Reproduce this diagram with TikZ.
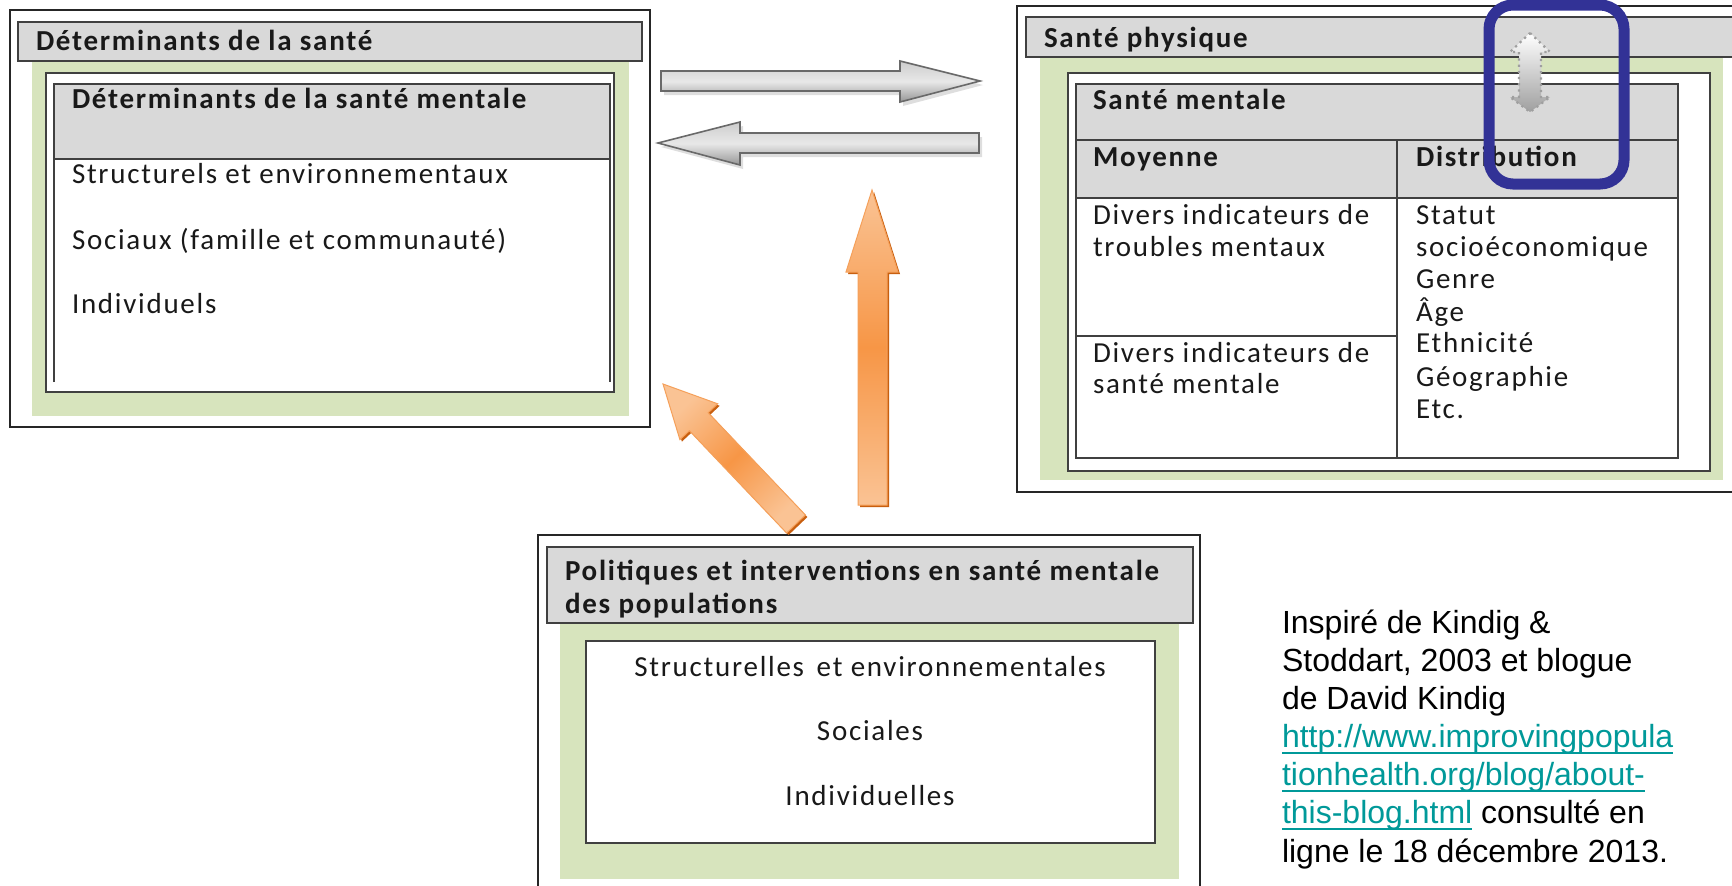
\documentclass[tikz,border=0pt]{standalone}
\usepackage{fontspec}
\newfontfamily\boxfont{Carlito}[LetterSpace=6]
\newfontfamily\boxbold{Carlito Bold}[LetterSpace=6]
\newfontfamily\citefont{Liberation Sans}
\usetikzlibrary{calc}
\definecolor{hdrgray}{RGB}{217,217,217}
\definecolor{pgreen}{RGB}{215,228,189}
\definecolor{bord}{RGB}{64,64,64}
\definecolor{blueframe}{RGB}{50,50,150}
\definecolor{linkteal}{RGB}{0,153,153}
\definecolor{orA}{RGB}{247,150,70}
\definecolor{orL}{RGB}{250,195,148}
\definecolor{orD}{RGB}{200,95,15}
\definecolor{orE}{RGB}{245,160,90}
\definecolor{gT}{RGB}{205,205,205}
\definecolor{gL}{RGB}{232,232,232}
\definecolor{gD}{RGB}{150,150,150}
\definecolor{gB}{RGB}{105,105,105}
\newcommand\lnk[1]{\setbox0\hbox{{\color{linkteal}#1}}\rlap{{\color{linkteal}\rule[-3.3pt]{\wd0}{1pt}}}\box0\relax}
\tikzset{
 outerline/.style={draw=black!85, line width=0.7pt},
 hdrbox/.style={fill=hdrgray, draw=bord, line width=1pt},
 boxline/.style={draw=bord, line width=1pt},
 txt/.style={inner sep=0pt, outer sep=0pt, anchor=base west, font=\boxfont\fontsize{14.5}{16}\selectfont, text=black!90},
 btxt/.style={txt, font=\boxbold\fontsize{14.5}{16}\selectfont},
 ctxt/.style={inner sep=0pt, outer sep=0pt, anchor=base west, font=\citefont\fontsize{16}{19}\selectfont, text=black},
 grayarrow/.style={draw=gB, line width=0.8pt, top color=gT, bottom color=gD, middle color=gL},
 orangearrow/.style={draw=orE, line width=0.5pt, top color=orL, bottom color=orL, middle color=orA},
 arrowshadow/.style={fill=black, opacity=0.13},
 orshadow/.style={fill=orD},
}
\begin{document}
\begin{tikzpicture}[x=0.5pt,y=-0.5pt]
\useasboundingbox (0,0) rectangle (1732,885);
\fill[white] (0,0) rectangle (1732,885);

% ---------- left panel ----------
\draw[outerline] (10,10) rectangle (650,427);
\fill[pgreen] (32,61) rectangle (629,416);
\draw[hdrbox] (18,22) rectangle (642,61);
\draw[boxline, fill=white] (46,73) rectangle (614,392);
\fill[hdrgray] (54,84) rectangle (610,159);
\draw[boxline] (54,382) -- (54,84) -- (610,84) -- (610,382);
\draw[boxline] (54,159) -- (610,159);
\node[btxt] (dsante) at (36,50) {Déterminants de la santé};
\node[btxt] (dsm) at (72,108) {Déterminants de la santé mentale};
\node[txt] (struct) at (72,183) {Structurels et environnementaux};
\node[txt] (sociaux) at (72,249) {Sociaux (famille et communauté)};
\node[txt] (indiv) at (72,313) {Individuels};

% ---------- right panel ----------
\draw[outerline] (1017,6) rectangle (1745,492);
\fill[pgreen] (1040,57) rectangle (1723,480);
\draw[hdrbox] (1026,17) rectangle (1745,57);
\draw[boxline, fill=white] (1068,73) rectangle (1710,471);
\fill[hdrgray] (1076,84) rectangle (1678,198);
\draw[boxline] (1076,84) rectangle (1678,458);
\draw[boxline] (1076,140) -- (1678,140);
\draw[boxline] (1076,198) -- (1678,198);
\draw[boxline] (1397,140) -- (1397,458);
\draw[boxline] (1076,336) -- (1397,336);
\node[btxt] (sphys) at (1044,47) {Santé physique};
\node[btxt] (sment) at (1093,109) {Santé mentale};
\node[btxt] (moy) at (1093,166) {Moyenne};
\node[btxt] (distr) at (1416,166) {Distribution};
\node[txt] (div1a) at (1093,224) {Divers indicateurs de};
\node[txt] (div1b) at (1093,256) {troubles mentaux};
\node[txt] (div2a) at (1093,362) {Divers indicateurs de};
\node[txt] (div2b) at (1093,393) {santé mentale};
\node[txt] (d1) at (1416,224) {Statut};
\node[txt] (d2) at (1416,256) {socioéconomique};
\node[txt] (d3) at (1416,288) {Genre};
\node[txt] (d4) at (1416,321) {Âge};
\node[txt] (d5) at (1416,352) {Ethnicité};
\node[txt] (d6) at (1416,386) {Géographie};
\node[txt] (d7) at (1416,418) {Etc.};

% ---------- bottom panel ----------
\draw[outerline] (538,895) -- (538,535) -- (1200,535) -- (1200,895);
\fill[pgreen] (560,623) rectangle (1179,879);
\draw[hdrbox] (547,547) rectangle (1193,623);
\draw[boxline, fill=white] (586,641) rectangle (1155,843);
\node[btxt] (pol1) at (565,580) {Politiques et interventions en santé mentale};
\node[btxt] (pol2) at (565,613) {des populations};
\node[txt, anchor=base] (ps1) at (870,676) {Structurelles\hspace{0.15em} et environnementales};
\node[txt, anchor=base] (ps2) at (870,740) {Sociales};
\node[txt, anchor=base] (ps3) at (870,805) {Individuelles};

% ---------- gray arrows ----------
\fill[arrowshadow] (664,75) -- (903,75) -- (903,65) -- (983,85) -- (903,106) -- (903,95) -- (664,95) -- cycle;
\path[grayarrow] (661,71) -- (900,71) -- (900,61) -- (980,81) -- (900,102) -- (900,91) -- (661,91) -- cycle;
\fill[arrowshadow] (661,147) -- (743,126) -- (743,137) -- (982,137) -- (982,157) -- (743,157) -- (743,169) -- cycle;
\path[grayarrow] (658,143) -- (740,122) -- (740,133) -- (979,133) -- (979,153) -- (740,153) -- (740,165) -- cycle;

% ---------- orange arrows ----------
\fill[orshadow] (874,192) -- (900,274) -- (889,274) -- (889,507) -- (860,507) -- (860,274) -- (848,274) -- cycle;
\path[orangearrow] (872,190) -- (898,272) -- (887,272) -- (887,505) -- (858,505) -- (858,272) -- (846,272) -- cycle;
\fill[orshadow] (665,386) -- (719.7,405.8) -- (710.2,414.7) -- (807.4,517) -- (788.6,535) -- (691.4,432.7) -- (681.9,441.6) -- cycle;
\path[orangearrow, shading angle=43.5] (663,384) -- (717.7,403.8) -- (708.2,412.7) -- (805.4,515) -- (786.6,533) -- (689.4,430.7) -- (679.9,439.6) -- cycle;

% ---------- small double arrow and blue frame ----------
\path[draw=gray!75, dotted, line width=1.1pt, top color=white, bottom color=gray!75]
 (1530,33) -- (1550,52) -- (1541,52) -- (1541,97) -- (1550,97) -- (1530,112) -- (1510,97) -- (1519,97) -- (1519,52) -- (1510,52) -- cycle;
\draw[blueframe, line width=5.5pt, rounded corners=12pt] (1489,5) rectangle (1624,184);

% ---------- citation ----------
\node[ctxt] (c1) at (1282,633) {Inspiré de Kindig \&};
\node[ctxt] (c2) at (1282,671) {Stoddart, 2003 et blogue};
\node[ctxt] (c3) at (1282,709) {de David Kindig};
\node[ctxt] (c4) at (1282,747) {\lnk{http://www.improvingpopula}};
\node[ctxt] (c5) at (1282,785) {\lnk{tionhealth.org/blog/about-}};
\node[ctxt] (c6) at (1282,823) {\lnk{this-blog.html} consulté en};
\node[ctxt] (c7) at (1282,862) {ligne le 18 décembre 2013.};
\end{tikzpicture}
\end{document}
